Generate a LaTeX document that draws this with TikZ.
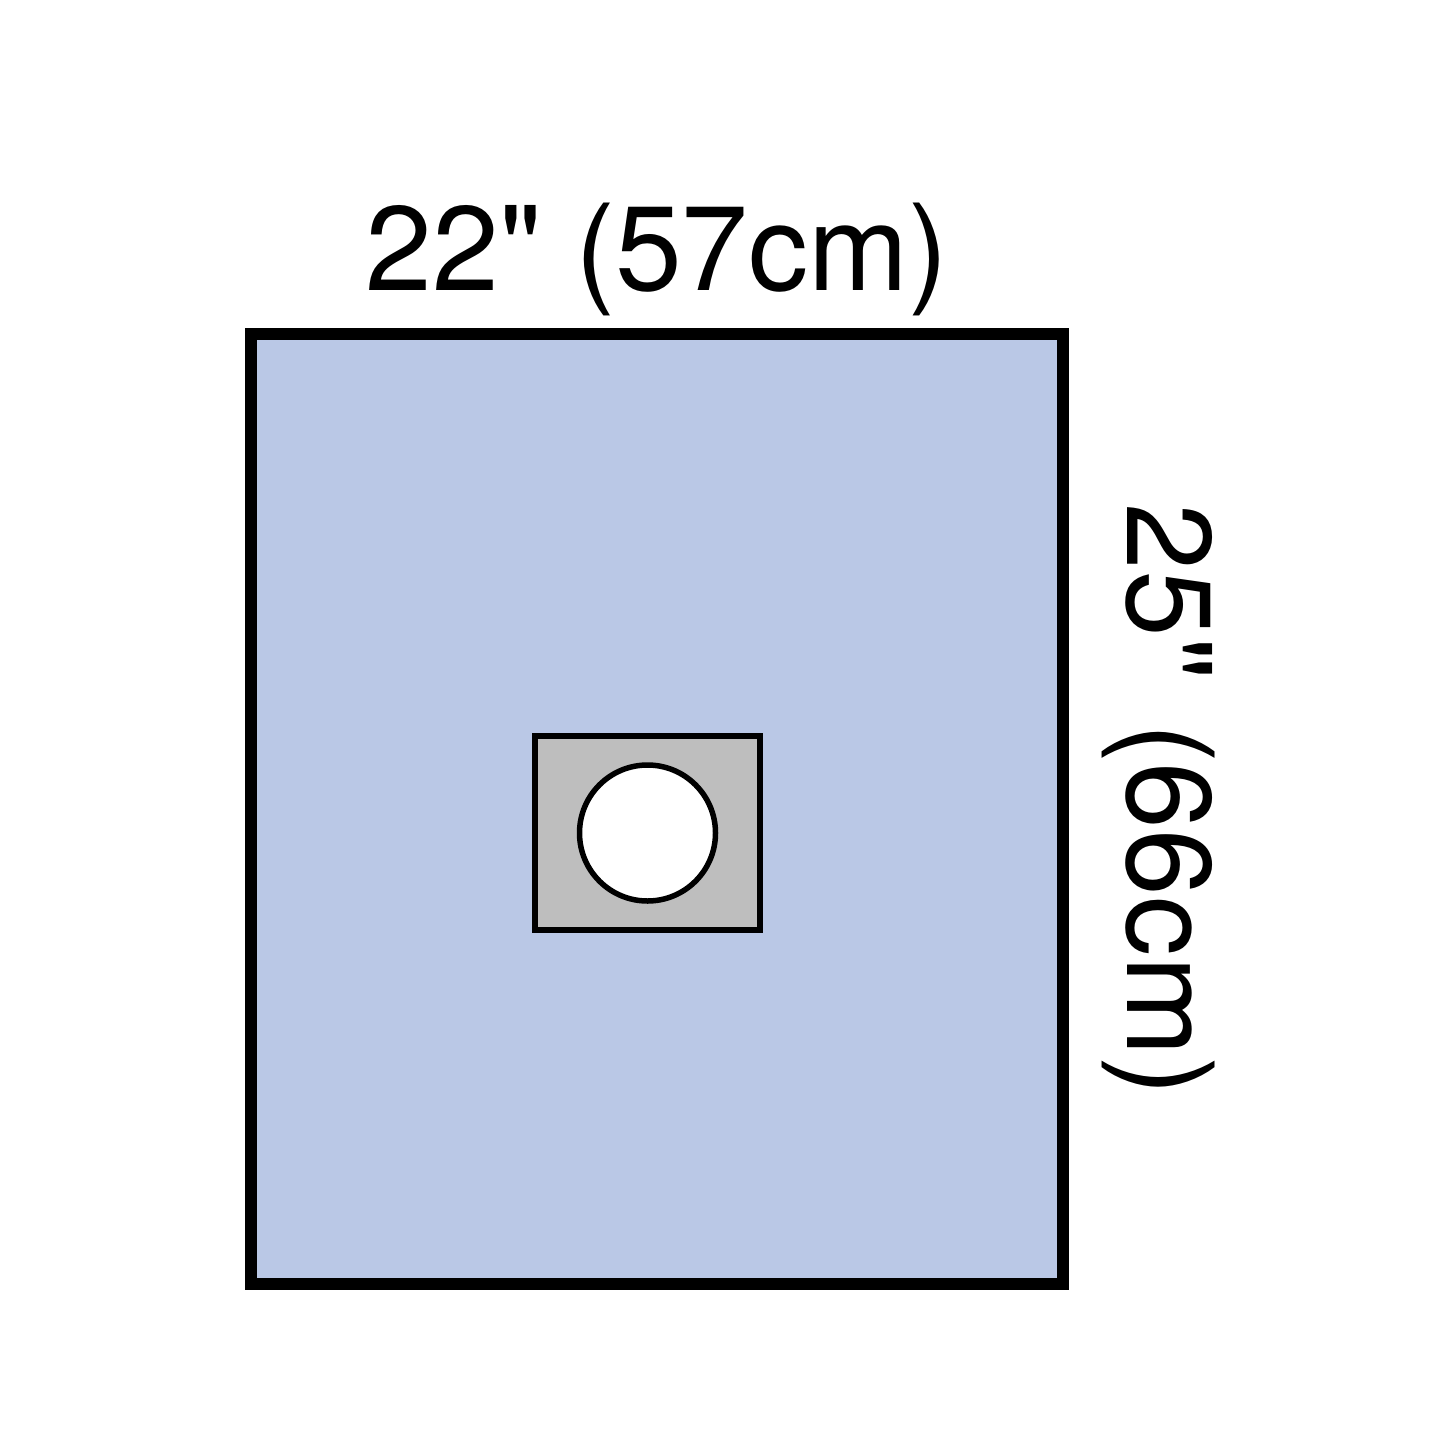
\documentclass[tikz,border=0pt]{standalone}
\usepackage{fontspec}
\newfontfamily\heros{TeX Gyre Heros}
\definecolor{drapeblue}{RGB}{186,200,230}
\definecolor{padgray}{RGB}{190,190,190}
\tikzset{
  outline/.style={draw=black, line join=miter},
  dimlabel/.style={font=\heros\fontsize{120}{134}\selectfont, inner sep=0pt, anchor=base}
}
\begin{document}
\begin{tikzpicture}[x=1pt,y=-1pt]
\useasboundingbox (0,0) rectangle (1445,1445);
\fill[white] (0,0) rectangle (1445,1445);
\draw[outline, line width=12pt, fill=drapeblue] (251,334) rectangle (1063,1284);
\draw[outline, line width=6pt, fill=padgray] (535,736) rectangle (760,930);
\node[draw=black, line width=5.5pt, fill=white, circle, minimum size=136pt, inner sep=0pt] (hole) at (647.5,833) {};
\node[dimlabel] (width) at (657,290) {22" (57cm)};
\node[dimlabel, rotate=-90] (height) at (1127,800) {25"\hspace{10pt} (66cm)};
\end{tikzpicture}
\end{document}
